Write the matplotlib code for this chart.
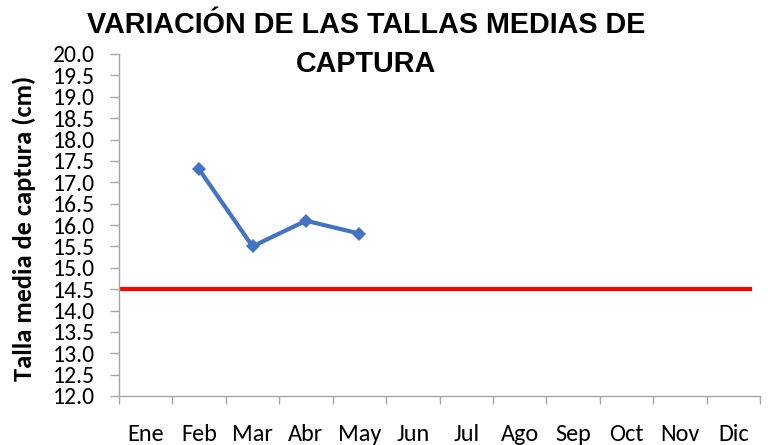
import matplotlib
matplotlib.use("Agg")
import matplotlib.pyplot as plt
from matplotlib import font_manager

meses = ["Ene", "Feb", "Mar", "Abr", "May", "Jun", "Jul", "Ago", "Sep", "Oct", "Nov", "Dic"]
meses_medidos = ["Feb", "Mar", "Abr", "May"]
talla_media = [17.3, 15.5, 16.1, 15.8]
talla_minima = 14.5
y_ticks = [12.0 + 0.5 * i for i in range(17)]

names = {f.name for f in font_manager.fontManager.ttflist}
body_font = "Carlito" if "Carlito" in names else "Lato"
title_font = "Liberation Sans" if "Liberation Sans" in names else "DejaVu Sans"

fig = plt.figure(figsize=(7.68, 4.45), dpi=100)
ax = fig.add_axes([119 / 768, 1 - 396 / 445, 641 / 768, 342 / 445])

x_pos = [meses.index(m) for m in meses_medidos]
ax.plot(x_pos, talla_media, color="#4472C4", lw=3, marker="D", ms=7,
        markeredgewidth=0, zorder=3)
ax.axhline(talla_minima, xmin=0, xmax=0.984, color="#FF0000", lw=3, zorder=2)

ax.set_xlim(-0.5, len(meses) - 0.5)
ax.set_ylim(12.0, 20.0)
ax.set_yticks(y_ticks)
ax.set_yticklabels([f"{v:.1f}" for v in y_ticks], fontfamily=body_font, fontsize=17)

# ticks between categories, labels at centers
ax.set_xticks([i - 0.5 for i in range(len(meses) + 1)])
ax.set_xticklabels([])
ax.set_xticks(range(len(meses)), minor=True)
ax.set_xticklabels(meses, minor=True, fontfamily=body_font, fontsize=17.5)
ax.tick_params(axis="x", which="minor", length=0, pad=20)
ax.tick_params(axis="x", which="major", length=6, color="#A6A6A6", width=1)
ax.tick_params(axis="y", length=6.5, color="#A6A6A6", width=1, pad=11)

for s in ["top", "right"]:
    ax.spines[s].set_visible(False)
for s in ["left", "bottom"]:
    ax.spines[s].set_color("#A6A6A6")
    ax.spines[s].set_linewidth(1)

fig.text(24 / 768, 1 - 228 / 445, "Talla media de captura (cm)", rotation=90,
         ha="center", va="center", fontfamily=body_font, fontweight="bold", fontsize=19)

fig.text(366 / 768, 1 - 11 / 445, "VARIACIÓN DE LAS TALLAS MEDIAS DE\nCAPTURA",
         ha="center", va="top", fontfamily=title_font, fontweight="bold",
         fontsize=20.7, linespacing=1.5)

fig.savefig("out.png", dpi=100)
